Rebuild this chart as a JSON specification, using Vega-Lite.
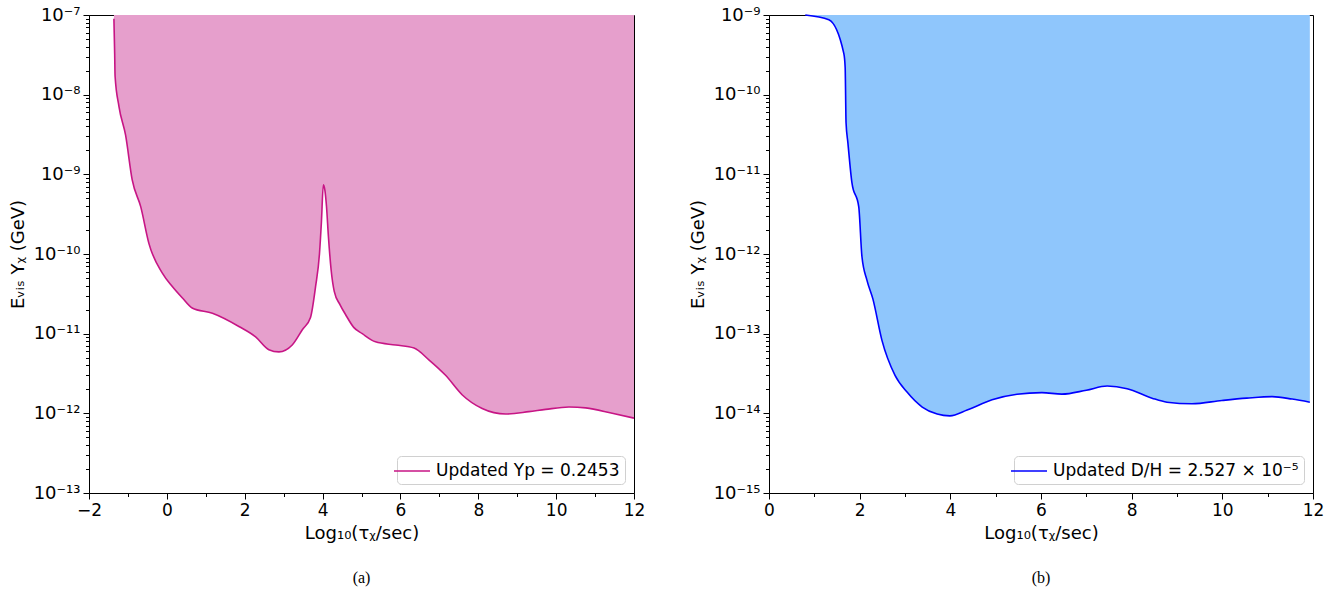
{
  "$schema": "https://vega.github.io/schema/vega-lite/v6.json",
  "background": "white",
  "padding": {"left": 8, "top": 5, "right": 5, "bottom": 5},
  "config": {
    "view": {"stroke": "#000", "strokeWidth": 1},
    "font": "DejaVu Sans",
    "axis": {
      "domainColor": "#000", "tickColor": "#000", "labelColor": "#000", "titleColor": "#000",
      "labelFont": "DejaVu Sans", "labelFontSize": 17, "titleFont": "DejaVu Sans", "titleFontSize": 18,
      "titleFontWeight": "normal", "grid": false, "labelOverlap": false, "labelPadding": 3, "tickWidth": 1,
      "labelFlush": false
    },
    "axisY": {"labelFontSize": 18},
    "legend": {
      "orient": "bottom-right", "labelFontSize": 17, "labelFont": "DejaVu Sans", "labelColor": "#000", "labelLimit": 0,
      "symbolType": "M-2,0H2", "symbolStrokeWidth": 1.6, "symbolSize": 324, "labelOffset": 14,
      "strokeColor": "#d0d0d0", "fillColor": "white", "cornerRadius": 4, "padding": 5, "offset": 9
    },
    "title": {"font": "Liberation Serif", "fontSize": 16, "fontWeight": "normal", "color": "#000"}
  },
  "spacing": 42,
  "resolve": {"scale": {"x": "independent", "y": "independent", "color": "independent"}, "legend": {"color": "independent"}},
  "hconcat": [
    {
      "width": 545, "height": 478,
      "title": {"text": "(a)", "orient": "bottom", "anchor": "middle", "frame": "group", "offset": 28},
      "data": {"values": [
        {"x": -1.36, "y": 9e-8}, {"x": -1.34, "y": 3.2e-8}, {"x": -1.33, "y": 1.7e-8}, {"x": -1.23, "y": 7.1e-9},
        {"x": -1.06, "y": 3.1e-9}, {"x": -0.89, "y": 8.5e-10}, {"x": -0.67, "y": 3.9e-10}, {"x": -0.46, "y": 1.35e-10},
        {"x": -0.12, "y": 5.8e-11}, {"x": 0.14, "y": 3.9e-11}, {"x": 0.4, "y": 2.8e-11}, {"x": 0.65, "y": 2.1e-11},
        {"x": 1.17, "y": 1.8e-11}, {"x": 1.85, "y": 1.23e-11}, {"x": 2.28, "y": 9.1e-12}, {"x": 2.62, "y": 6.3e-12},
        {"x": 2.88, "y": 5.9e-12}, {"x": 3.22, "y": 7.2e-12}, {"x": 3.48, "y": 1.12e-11}, {"x": 3.69, "y": 1.6e-11},
        {"x": 3.82, "y": 3.9e-11}, {"x": 3.92, "y": 1.0e-10}, {"x": 3.97, "y": 2.5e-10}, {"x": 4.02, "y": 7.4e-10},
        {"x": 4.06, "y": 6.3e-10}, {"x": 4.1, "y": 4.0e-10}, {"x": 4.15, "y": 1.66e-10}, {"x": 4.22, "y": 6.3e-11},
        {"x": 4.3, "y": 3.4e-11}, {"x": 4.45, "y": 2.3e-11}, {"x": 4.59, "y": 1.74e-11}, {"x": 4.8, "y": 1.2e-11},
        {"x": 5.02, "y": 1.0e-11}, {"x": 5.36, "y": 7.9e-12}, {"x": 5.88, "y": 7.2e-12}, {"x": 6.35, "y": 6.6e-12},
        {"x": 6.73, "y": 4.7e-12}, {"x": 7.16, "y": 3.0e-12}, {"x": 7.59, "y": 1.7e-12}, {"x": 8.1, "y": 1.15e-12},
        {"x": 8.7, "y": 9.8e-13}, {"x": 9.3, "y": 1.05e-12}, {"x": 9.73, "y": 1.12e-12}, {"x": 10.33, "y": 1.2e-12},
        {"x": 10.76, "y": 1.17e-12}, {"x": 11.44, "y": 1.0e-12}, {"x": 12.0, "y": 8.7e-13}
      ]},
      "encoding": {
        "x": {"field": "x", "type": "quantitative", "scale": {"domain": [-2, 12], "nice": false, "zero": false},
          "axis": {"title": "Log₁₀(τᵪ/sec)", "values": [-2, -1, 0, 1, 2, 3, 4, 5, 6, 7, 8, 9, 10, 11, 12],
            "labelExpr": "datum.value % 2 == 0 ? format(datum.value, 'd') : ''",
            "tickSize": {"condition": {"test": "datum.value % 2 == 0", "value": 6}, "value": 3.5}, "titlePadding": 6}},
        "y": {"field": "y", "type": "quantitative", "scale": {"type": "log", "domain": [1e-13, 1e-7]},
          "axis": {"title": "Eᵥᵢₛ Yᵪ (GeV)", "titlePadding": 6,
            "values": [1e-13,2e-13,3e-13,4e-13,5e-13,6e-13,7e-13,8e-13,9e-13,1e-12,2e-12,3e-12,4e-12,5e-12,6e-12,7e-12,8e-12,9e-12,1e-11,2e-11,3e-11,4e-11,5e-11,6e-11,7e-11,8e-11,9e-11,1e-10,2e-10,3e-10,4e-10,5e-10,6e-10,7e-10,8e-10,9e-10,1e-9,2e-9,3e-9,4e-9,5e-9,6e-9,7e-9,8e-9,9e-9,1e-8,2e-8,3e-8,4e-8,5e-8,6e-8,7e-8,8e-8,9e-8,1e-7],
            "labelExpr": "abs(log(datum.value)/LN10 - round(log(datum.value)/LN10)) < 0.001 ? '10' + replace(replace(replace(replace(replace(replace(replace(replace(replace(replace(replace(toString(round(log(datum.value)/LN10)),'-','⁻'),regexp('0','g'),'⁰'),regexp('1','g'),'¹'),regexp('2','g'),'²'),regexp('3','g'),'³'),regexp('4','g'),'⁴'),regexp('5','g'),'⁵'),regexp('6','g'),'⁶'),regexp('7','g'),'⁷'),regexp('8','g'),'⁸'),regexp('9','g'),'⁹') : ''",
            "tickSize": {"condition": {"test": "abs(log(datum.value)/LN10 - round(log(datum.value)/LN10)) < 0.001", "value": 6}, "value": 3.5}}}
      },
      "layer": [
        {"mark": {"type": "area", "color": "#e69fcc", "interpolate": "monotone"}, "encoding": {"y2": {"datum": 1e-7}}},
        {"mark": {"type": "line", "strokeWidth": 1.6, "interpolate": "monotone"},
          "encoding": {"color": {"datum": "Updated Yp = 0.2453", "type": "nominal", "scale": {"range": ["#c71585"]}, "legend": {"title": null}}}}
      ]
    },
    {
      "width": 544, "height": 478,
      "title": {"text": "(b)", "orient": "bottom", "anchor": "middle", "frame": "group", "offset": 28},
      "data": {"values": [
        {"x": 0.8, "y": 1.0e-9}, {"x": 1.32, "y": 8.7e-10}, {"x": 1.65, "y": 3.3e-10}, {"x": 1.68, "y": 2.2e-10},
        {"x": 1.7, "y": 4.4e-11}, {"x": 1.74, "y": 2.5e-11}, {"x": 1.83, "y": 7.8e-12}, {"x": 1.98, "y": 3.9e-12},
        {"x": 2.05, "y": 9.3e-13}, {"x": 2.16, "y": 4.7e-13}, {"x": 2.29, "y": 2.75e-13}, {"x": 2.49, "y": 8.3e-14},
        {"x": 2.78, "y": 3.0e-14}, {"x": 3.04, "y": 1.86e-14}, {"x": 3.38, "y": 1.2e-14}, {"x": 3.71, "y": 9.8e-15},
        {"x": 3.99, "y": 9.3e-15}, {"x": 4.37, "y": 1.1e-14}, {"x": 4.92, "y": 1.48e-14}, {"x": 5.47, "y": 1.74e-14},
        {"x": 6.02, "y": 1.82e-14}, {"x": 6.46, "y": 1.74e-14}, {"x": 7.0, "y": 1.95e-14}, {"x": 7.46, "y": 2.2e-14},
        {"x": 7.9, "y": 2.04e-14}, {"x": 8.45, "y": 1.55e-14}, {"x": 8.78, "y": 1.38e-14}, {"x": 9.33, "y": 1.32e-14},
        {"x": 9.99, "y": 1.45e-14}, {"x": 10.54, "y": 1.55e-14}, {"x": 11.1, "y": 1.62e-14}, {"x": 11.54, "y": 1.51e-14},
        {"x": 11.93, "y": 1.38e-14}
      ]},
      "encoding": {
        "x": {"field": "x", "type": "quantitative", "scale": {"domain": [0, 12], "nice": false, "zero": false},
          "axis": {"title": "Log₁₀(τᵪ/sec)", "values": [0, 1, 2, 3, 4, 5, 6, 7, 8, 9, 10, 11, 12],
            "labelExpr": "datum.value % 2 == 0 ? format(datum.value, 'd') : ''",
            "tickSize": {"condition": {"test": "datum.value % 2 == 0", "value": 6}, "value": 3.5}, "titlePadding": 6}},
        "y": {"field": "y", "type": "quantitative", "scale": {"type": "log", "domain": [1e-15, 1e-9]},
          "axis": {"title": "Eᵥᵢₛ Yᵪ (GeV)", "titlePadding": 6,
            "values": [1e-15,2e-15,3e-15,4e-15,5e-15,6e-15,7e-15,8e-15,9e-15,1e-14,2e-14,3e-14,4e-14,5e-14,6e-14,7e-14,8e-14,9e-14,1e-13,2e-13,3e-13,4e-13,5e-13,6e-13,7e-13,8e-13,9e-13,1e-12,2e-12,3e-12,4e-12,5e-12,6e-12,7e-12,8e-12,9e-12,1e-11,2e-11,3e-11,4e-11,5e-11,6e-11,7e-11,8e-11,9e-11,1e-10,2e-10,3e-10,4e-10,5e-10,6e-10,7e-10,8e-10,9e-10,1e-9],
            "labelExpr": "abs(log(datum.value)/LN10 - round(log(datum.value)/LN10)) < 0.001 ? '10' + replace(replace(replace(replace(replace(replace(replace(replace(replace(replace(replace(toString(round(log(datum.value)/LN10)),'-','⁻'),regexp('0','g'),'⁰'),regexp('1','g'),'¹'),regexp('2','g'),'²'),regexp('3','g'),'³'),regexp('4','g'),'⁴'),regexp('5','g'),'⁵'),regexp('6','g'),'⁶'),regexp('7','g'),'⁷'),regexp('8','g'),'⁸'),regexp('9','g'),'⁹') : ''",
            "tickSize": {"condition": {"test": "abs(log(datum.value)/LN10 - round(log(datum.value)/LN10)) < 0.001", "value": 6}, "value": 3.5}}}
      },
      "layer": [
        {"mark": {"type": "area", "color": "#8fc6fc", "interpolate": "monotone"}, "encoding": {"y2": {"datum": 1e-9}}},
        {"mark": {"type": "line", "strokeWidth": 1.6, "interpolate": "monotone"},
          "encoding": {"color": {"datum": "Updated D/H = 2.527 × 10⁻⁵", "type": "nominal", "scale": {"range": ["#0000ff"]}, "legend": {"title": null}}}}
      ]
    }
  ]
}
